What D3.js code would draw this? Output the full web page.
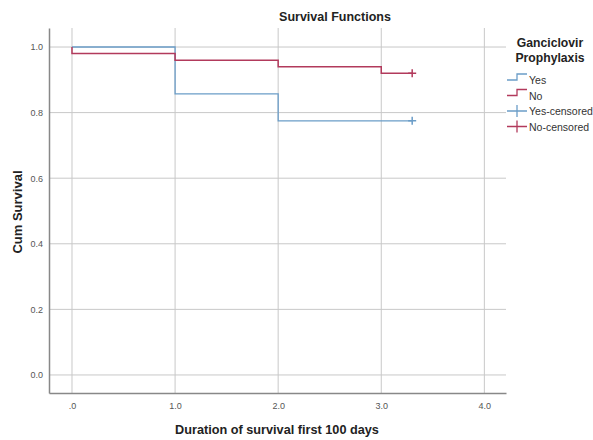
<!DOCTYPE html>
<html>
<head>
  <style>
    body { margin: 0; background: #fff; }
    text { font-family: Arial, "Liberation Sans", sans-serif; }
  </style>
</head>
<body>
  <script src="https://d3js.org/d3.v7.min.js"></script>
  <svg id="chart" width="593" height="440"></svg>
  <script>
    // step data: time of each step and survival after it
    var yesTimes = [0, 1, 2];
    var yesSurv = [1.0, 0.857, 0.775];
    var yesEnd = 3.3;
    var noTimes = [0, 1, 2, 3];
    var noSurv = [0.98, 0.96, 0.94, 0.92];
    var noEnd = 3.3;
    var xTicks = [0, 1, 2, 3, 4];
    var xTickLabels = [".0", "1.0", "2.0", "3.0", "4.0"];
    var yTicks = [0, 0.2, 0.4, 0.6, 0.8, 1.0];
    var legendLabels = ["Yes", "No", "Yes-censored", "No-censored"];

    var blue = "#6b9dc8", red = "#b23a5c";
    var svg = d3.select("#chart");

    var x = d3.scaleLinear().domain([-0.223, 4.21]).range([49, 506]);
    var y = d3.scaleLinear().domain([-0.055, 1.058]).range([393, 28]);

    // gridlines
    svg.append("g").selectAll("line").data(xTicks).enter().append("line")
      .attr("x1", d => x(d)).attr("x2", d => x(d))
      .attr("y1", y.range()[1]).attr("y2", y.range()[0])
      .attr("stroke", "#c8c8c8").attr("stroke-width", 1);
    svg.append("g").selectAll("line").data(yTicks).enter().append("line")
      .attr("x1", x.range()[0]).attr("x2", x.range()[1])
      .attr("y1", d => y(d)).attr("y2", d => y(d))
      .attr("stroke", "#c8c8c8").attr("stroke-width", 1);

    // axes
    var xAxis = d3.axisBottom(x).tickValues(xTicks)
      .tickFormat((d, i) => xTickLabels[i]).tickSize(0).tickPadding(10);
    var gx = svg.append("g").attr("transform", "translate(0,393)").call(xAxis);
    var yAxis = d3.axisLeft(y).tickValues(yTicks)
      .tickFormat(d3.format(".1f")).tickSize(0).tickPadding(6);
    var gy = svg.append("g").attr("transform", "translate(49,0)").call(yAxis);
    [gx, gy].forEach(function(g) {
      g.select(".domain").attr("stroke", "#888").attr("stroke-width", 1.5);
      g.selectAll("text").attr("fill", "#555").style("font-size", "9px");
    });

    function stepPath(times, surv, end) {
      var pts = [[times[0], 1.0]];
      for (var i = 0; i < times.length; i++) {
        if (i > 0) pts.push([times[i], surv[i - 1]]);
        pts.push([times[i], surv[i]]);
      }
      pts.push([end, surv[surv.length - 1]]);
      return d3.line().x(d => x(d[0])).y(d => y(d[1]))(pts);
    }

    svg.append("path").attr("d", stepPath(yesTimes, yesSurv, yesEnd))
      .attr("fill", "none").attr("stroke", blue).attr("stroke-width", 1.3);
    svg.append("path").attr("d", stepPath(noTimes, noSurv, noEnd))
      .attr("fill", "none").attr("stroke", red).attr("stroke-width", 1.5);

    function censor(t, s, col) {
      var cx = x(t), cy = y(s);
      svg.append("path")
        .attr("d", "M" + (cx - 4) + "," + cy + "H" + (cx + 4) + "M" + cx + "," + (cy - 4) + "V" + (cy + 4))
        .attr("stroke", col).attr("stroke-width", 1.5);
    }
    censor(yesEnd, yesSurv[yesSurv.length - 1], blue);
    censor(noEnd, noSurv[noSurv.length - 1], red);

    // titles
    svg.append("text").attr("x", 335).attr("y", 21).attr("text-anchor", "middle")
      .style("font-size", "12.5px").style("font-weight", "bold").attr("fill", "#222")
      .text("Survival Functions");
    svg.append("text").attr("x", 277).attr("y", 434).attr("text-anchor", "middle")
      .style("font-size", "12.7px").style("font-weight", "bold").attr("fill", "#222")
      .text("Duration of survival first 100 days");
    svg.append("text").attr("transform", "translate(22,212) rotate(-90)")
      .attr("text-anchor", "middle")
      .style("font-size", "13px").style("font-weight", "bold").attr("fill", "#222")
      .text("Cum Survival");

    // legend
    svg.append("text").attr("x", 550).attr("y", 47).attr("text-anchor", "middle")
      .style("font-size", "12.2px").style("font-weight", "bold").attr("fill", "#222")
      .text("Ganciclovir");
    svg.append("text").attr("x", 550).attr("y", 62).attr("text-anchor", "middle")
      .style("font-size", "12.2px").style("font-weight", "bold").attr("fill", "#222")
      .text("Prophylaxis");

    var lg = svg.append("g").selectAll("g").data(legendLabels).enter().append("g")
      .attr("transform", (d, i) => "translate(507," + (80 + i * 15.5) + ")");
    lg.each(function(d, i) {
      var g = d3.select(this);
      var col = i % 2 === 0 ? blue : red;
      if (i < 2) {
        g.append("path").attr("d", "M0,0H10V-6H20").attr("fill", "none")
          .attr("stroke", col).attr("stroke-width", 1.3);
      } else {
        g.append("path").attr("d", "M0,0H20M10,-6V6").attr("fill", "none")
          .attr("stroke", col).attr("stroke-width", 1.3);
      }
      g.append("text").attr("x", 22).attr("y", 4).style("font-size", "10.5px")
        .attr("fill", "#333").text(d);
    });
  </script>
</body>
</html>
